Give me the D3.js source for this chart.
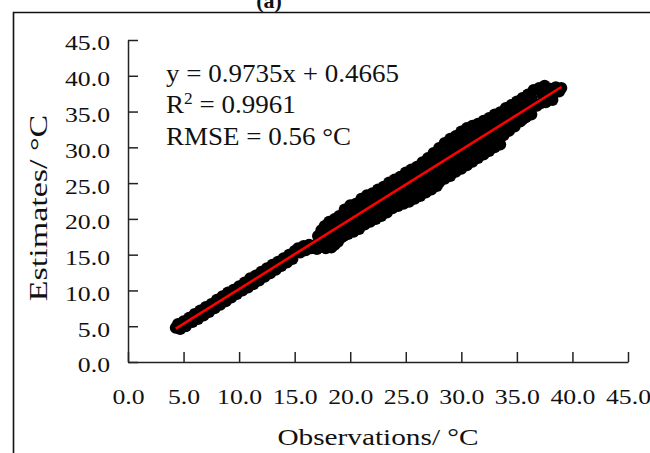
<!DOCTYPE html>
<html>
<head>
<meta charset="utf-8">
<script src="https://cdn.jsdelivr.net/npm/d3@7"></script>
<style>
  body { margin: 0; background: #fff; }
  svg { display: block; }
  text { font-family: "Palatino Linotype", "Book Antiqua", Palatino, "Liberation Serif", serif; fill: #111; }
</style>
</head>
<body>
<svg width="650" height="453"></svg>
<script>
const xTicks = [0, 5, 10, 15, 20, 25, 30, 35, 40, 45];
const yTicks = [0, 5, 10, 15, 20, 25, 30, 35, 40, 45];
const slope = 0.9735;
const intercept = 0.4665;
const r2Text = "0.9961";
const rmseText = "0.56 °C";

const points = [
  // 4 - 15 °C, narrow part
  [4.3, 4.8], [4.5, 5.3], [4.7, 4.6], [5.0, 5.7], [5.2, 5.0], [5.5, 6.2], [5.8, 5.6], [6.0, 6.7], [6.3, 6.0],
  [6.5, 7.2], [6.8, 6.5], [7.0, 7.7], [7.3, 7.0], [7.5, 8.1], [7.8, 7.5], [8.0, 8.7], [8.3, 8.0], [8.5, 9.2],
  [8.8, 8.5], [9.0, 9.7], [9.3, 9.0], [9.5, 10.1], [9.8, 9.5], [10.0, 10.6], [10.3, 10.0], [10.5, 11.1],
  [10.8, 10.4], [11.0, 11.7], [11.3, 10.9], [11.5, 12.1], [11.8, 11.4], [12.0, 12.6], [12.3, 11.9], [12.5, 13.1],
  [12.8, 12.4], [13.0, 13.6], [13.3, 12.9], [13.5, 14.0], [13.8, 13.4], [14.0, 14.5], [14.3, 13.9], [14.5, 15.0],
  [14.8, 14.4], [15.0, 15.5],
  // shelf near 16 °C and the step above it
  [15.3, 15.9], [15.5, 15.3], [15.8, 16.2], [16.0, 15.6], [16.3, 16.4], [16.5, 15.9], [16.8, 16.3], [17.0, 15.8],
  [17.3, 16.1], [17.5, 16.5], [17.8, 15.9], [18.0, 16.3], [18.3, 16.0], [18.6, 16.4], [18.9, 16.8], [19.2, 17.4],
  [17.1, 17.6], [17.4, 18.4], [17.7, 19.0], [17.9, 18.0], [18.1, 19.6], [18.3, 18.6], [18.6, 20.0], [18.8, 19.1],
  [19.0, 20.4], [19.2, 19.5],
  [17.6, 17.2], [17.9, 17.0], [18.2, 17.3], [18.5, 17.5], [18.8, 17.9], [19.1, 18.4], [19.4, 17.6], [19.6, 19.6],
  [19.3, 18.9], [18.5, 18.3],
  // 19 - 28 °C
  [19.5, 21.3], [20.0, 21.9], [20.5, 22.1], [21.0, 22.8], [21.5, 23.3], [22.0, 23.6], [22.5, 24.1], [23.0, 24.5],
  [23.5, 25.1], [24.0, 25.5], [24.5, 25.9], [25.0, 26.5], [25.5, 26.9], [26.0, 27.3], [26.5, 27.9], [27.0, 28.5],
  [27.5, 29.2], [28.0, 29.9],
  [19.8, 20.3], [20.3, 20.8], [20.8, 21.1], [21.3, 21.8], [21.8, 22.1], [22.3, 22.8], [22.8, 23.1], [23.3, 23.7],
  [23.8, 24.0], [24.3, 24.7], [24.8, 25.0], [25.3, 25.7], [25.8, 26.0], [26.3, 26.6], [26.8, 27.1], [27.3, 27.5],
  [27.8, 28.1],
  [19.5, 18.6], [20.0, 19.2], [20.5, 19.5], [21.0, 20.2], [21.5, 20.5], [22.0, 21.1], [22.5, 21.5], [23.0, 22.1],
  [23.5, 22.5], [24.0, 22.9], [24.5, 23.6], [25.0, 23.9], [25.5, 24.5], [26.0, 24.9], [26.5, 25.5], [27.0, 25.9],
  [27.5, 26.5], [28.0, 26.8],
  [22.0, 20.2], [22.5, 20.6], [23.0, 21.1], [23.5, 21.5], [24.0, 22.0], [24.5, 22.5], [25.0, 22.9], [25.5, 23.4],
  [26.0, 23.9], [26.5, 24.4], [27.0, 24.9], [27.5, 25.3],
  [19.8, 17.9], [20.3, 18.2], [20.8, 18.6], [21.3, 19.2], [21.8, 19.6], [22.3, 20.0], [22.8, 20.4], [23.3, 20.9],
  [23.8, 21.5], [24.3, 21.8], [24.8, 22.1], [25.3, 22.4], [25.8, 22.8], [26.3, 23.2], [26.8, 23.7], [27.3, 24.1],
  [27.8, 24.6],
  // 28 - 36.5 °C
  [28.5, 30.6], [29.0, 31.2], [29.5, 31.6], [30.0, 32.2], [30.5, 32.7], [31.0, 33.0], [31.5, 33.3], [32.0, 33.7],
  [32.5, 34.1], [33.0, 34.6], [33.5, 34.9], [34.0, 35.5], [34.5, 35.9], [35.0, 36.4], [35.5, 36.9], [36.0, 37.4],
  [36.5, 38.0],
  [28.3, 29.1], [28.8, 29.4], [29.3, 30.1], [29.8, 30.4], [30.3, 31.0], [30.8, 31.4], [31.3, 31.9], [31.8, 32.5],
  [32.3, 32.8], [32.8, 33.5], [33.3, 33.8], [33.8, 34.4], [34.3, 34.8], [34.8, 35.4], [35.3, 35.8], [35.8, 36.4],
  [36.3, 36.9],
  [28.5, 28.6], [29.0, 29.0], [29.5, 29.4], [30.0, 30.1], [30.5, 30.4], [31.0, 31.0], [31.5, 31.4], [32.0, 31.9],
  [32.5, 32.5], [33.0, 32.9], [33.5, 33.3], [34.0, 33.9], [34.5, 34.4], [35.0, 34.8], [35.5, 35.3], [36.0, 35.8],
  [28.5, 27.8], [29.0, 28.2], [29.5, 28.8], [30.0, 29.3], [30.5, 29.7], [31.0, 30.3], [31.5, 30.7], [32.0, 31.2],
  [32.5, 31.7], [33.0, 32.2], [33.5, 32.7], [34.0, 33.2], [34.5, 33.6], [35.0, 34.2], [35.5, 34.6], [36.0, 35.1],
  [36.5, 35.7],
  [28.5, 27.1], [29.0, 27.6], [29.5, 28.1], [30.0, 28.6], [30.5, 29.0], [31.0, 29.5], [31.5, 30.0], [32.0, 30.5],
  [32.5, 31.0], [33.0, 31.5], [33.5, 32.0], [34.0, 32.5], [34.5, 33.0], [35.0, 33.5], [35.5, 33.9],
  [28.3, 26.0], [28.8, 26.6], [29.3, 27.1], [29.8, 27.6], [30.3, 28.2], [30.8, 28.6], [31.3, 29.0], [31.8, 29.5],
  [32.3, 30.1], [32.8, 30.6], [33.3, 31.0], [33.8, 31.7], [34.3, 32.3], [34.8, 32.9], [35.3, 33.6], [35.8, 34.2],
  [28.0, 25.1], [28.5, 25.6], [29.0, 26.0], [29.5, 26.6], [30.0, 27.0], [30.5, 27.5], [31.0, 28.0], [31.5, 28.5],
  [32.0, 29.0], [32.5, 29.5], [33.0, 30.0], [33.5, 30.4],
  // top end
  [37.0, 38.3], [37.3, 37.3], [37.5, 38.6], [37.8, 37.0], [38.0, 38.2], [38.3, 37.5], [38.5, 38.4], [38.8, 37.8],
  [39.0, 38.3], [36.8, 35.8], [37.2, 36.2], [37.6, 36.3], [38.2, 36.6], [36.3, 34.6]
];

const svg = d3.select("svg");
const x = d3.scaleLinear().domain([0, 45]).range([128, 628]);
const y = d3.scaleLinear().domain([0, 45]).range([362, 40]);

// widen glyphs a bit, the original font is broader than the fallback
function stretch(sel, k) {
  sel.each(function () {
    const len = this.getComputedTextLength();
    d3.select(this).attr("textLength", len * k).attr("lengthAdjust", "spacingAndGlyphs");
  });
}

// panel frame (only the left and top edges show)
svg.append("path")
  .attr("d", "M13.5,453V12.5H650")
  .attr("fill", "none")
  .attr("stroke", "#111")
  .attr("stroke-width", 1.6);

svg.append("text")
  .attr("x", 269).attr("y", 8)
  .attr("text-anchor", "middle")
  .style("font-size", "22px")
  .style("font-weight", "bold")
  .text("(a)");

// scatter
svg.append("g").selectAll("circle")
  .data(points).enter()
  .append("circle")
  .attr("cx", d => x(d[0]))
  .attr("cy", d => y(d[1]))
  .attr("r", 6)
  .attr("fill", "#000");

// fitted line over the observed range
const xExt = d3.extent(points, d => d[0]);
svg.append("line")
  .attr("x1", x(xExt[0])).attr("y1", y(slope * xExt[0] + intercept))
  .attr("x2", x(xExt[1])).attr("y2", y(slope * xExt[1] + intercept))
  .attr("stroke", "#ff0000")
  .attr("stroke-width", 2.6);

// axes
const fmt = d3.format(".1f");
const yAxis_g = svg.append("g")
  .attr("transform", "translate(" + x(0) + ",0)")
  .call(d3.axisLeft(y).tickValues(yTicks).tickFormat(fmt)
    .tickSizeInner(-10).tickSizeOuter(0).tickPadding(18));
yAxis_g.selectAll("text").attr("dy", "0.45em");

const xAxis_g = svg.append("g")
  .attr("transform", "translate(0," + y(0) + ")")
  .call(d3.axisBottom(x).tickValues(xTicks).tickFormat(fmt)
    .tickSizeInner(-10).tickSizeOuter(0).tickPadding(26));

[yAxis_g, xAxis_g].forEach(g => {
  g.attr("font-family", null).attr("font-size", null);
  g.selectAll("path, line").attr("stroke", "#222").attr("stroke-width", 1.5);
  g.selectAll("text").style("font-size", "22px").call(stretch, 1.17);
});

// axis titles
svg.append("text")
  .attr("x", 378).attr("y", 445)
  .attr("text-anchor", "middle")
  .style("font-size", "24px")
  .text("Observations/ °C")
  .call(stretch, 1.22);

svg.append("text")
  .attr("transform", "translate(47,208) rotate(-90)")
  .attr("text-anchor", "middle")
  .style("font-size", "25px")
  .text("Estimates/ °C")
  .call(stretch, 1.36);

// fit statistics
const statX = 166;
svg.append("text")
  .attr("x", statX).attr("y", 81.5)
  .style("font-size", "25px")
  .text("y = " + slope + "x + " + intercept)
  .call(stretch, 1.08);

const r2 = svg.append("text")
  .attr("x", statX).attr("y", 113)
  .style("font-size", "25px");
r2.append("tspan").text("R");
r2.append("tspan").attr("dy", -9).style("font-size", "16px").text("2");
r2.append("tspan").attr("dy", 9).text(" = " + r2Text);
r2.call(stretch, 1.08);

svg.append("text")
  .attr("x", statX).attr("y", 145)
  .style("font-size", "25px")
  .text("RMSE = " + rmseText)
  .call(stretch, 1.08);
</script>
</body>
</html>
